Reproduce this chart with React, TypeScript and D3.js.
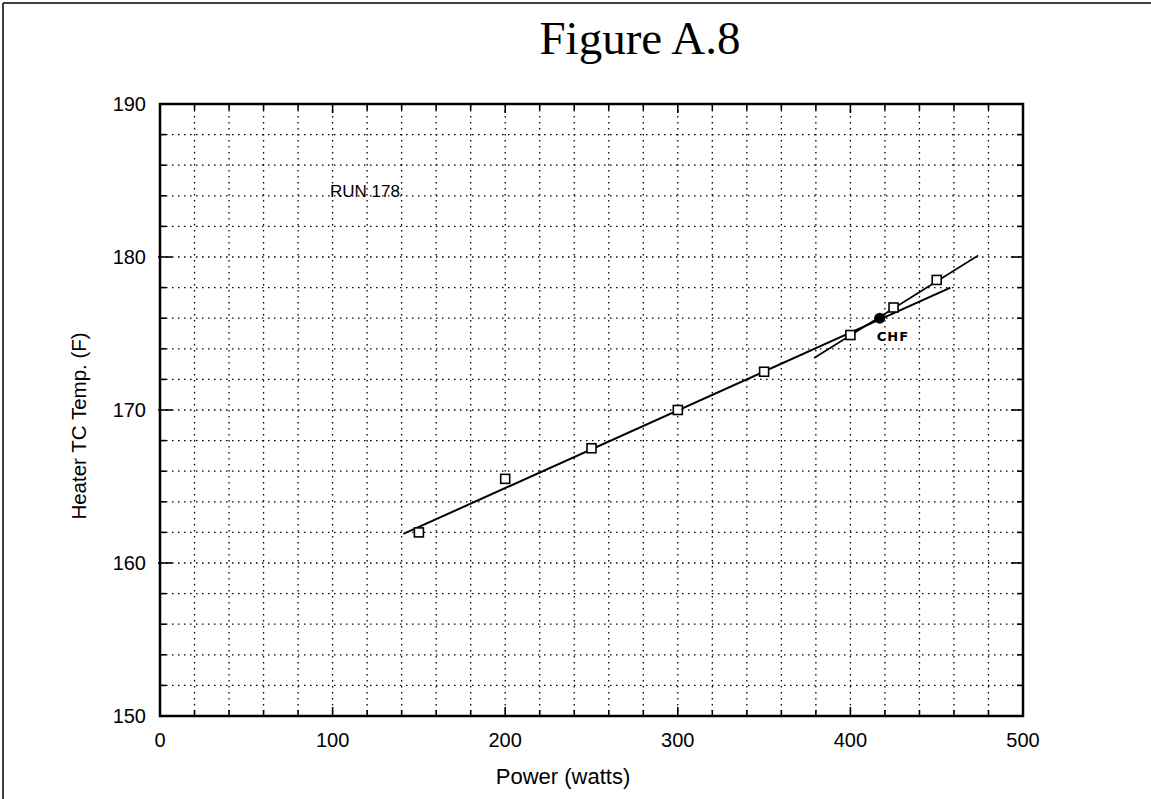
import React from "react";
import * as d3 from "d3";

const powerW = [150, 200, 250, 300, 350, 400, 425, 450];
const heaterTempF = [162.0, 165.5, 167.5, 170.0, 172.5, 174.9, 176.7, 178.5];
const chfPoint = [417, 176.0];
const lowFitPower = [141, 458];
const lowFitTemp = [161.9, 178.0];
const highFitPower = [379, 474];
const highFitTemp = [173.4, 180.1];
const xTicks = [0, 100, 200, 300, 400, 500];
const yTicks = [150, 160, 170, 180, 190];
const title = "Figure A.8";
const xLabel = "Power (watts)";
const yLabel = "Heater TC Temp. (F)";
const runLabel = "RUN 178";
const chfLabel = "CHF";

const W = 1151;
const H = 799;
const left = 160, right = 1023, top = 104, bottom = 716;

export default function App() {
  const x = d3.scaleLinear().domain([0, 500]).range([left, right]);
  const y = d3.scaleLinear().domain([150, 190]).range([bottom, top]);
  const xMinor = d3.range(20, 500, 20);
  const yMinor = d3.range(152, 190, 2);
  const line = d3.line<[number, number]>().x(d => x(d[0])).y(d => y(d[1]));
  const low: [number, number][] = lowFitPower.map((p, i) => [p, lowFitTemp[i]]);
  const high: [number, number][] = highFitPower.map((p, i) => [p, highFitTemp[i]]);
  const sans = "'Liberation Sans', Arial, Helvetica, sans-serif";
  const dots = "1.5,4.5";
  return (
    <svg width={W} height={H} style={{ position: "absolute", left: 0, top: 0, background: "#fff" }}>
      <rect x={0} y={0} width={W} height={H} fill="#fff" />
      {/* page frame */}
      <line x1={3} y1={3} x2={W} y2={3} stroke="#000" strokeWidth={1.5} />
      <line x1={3} y1={3} x2={3} y2={H} stroke="#000" strokeWidth={1.5} />
      <text x={640} y={54} textAnchor="middle" fontFamily="'Liberation Serif', 'Times New Roman', serif" fontSize={47} fill="#000">{title}</text>
      {/* grid */}
      {xMinor.map(v => (
        <line key={"gx" + v} x1={x(v)} x2={x(v)} y1={top} y2={bottom} stroke="#000" strokeWidth={1.3} strokeDasharray={dots} />
      ))}
      {yMinor.map(v => (
        <line key={"gy" + v} x1={left} x2={right} y1={y(v)} y2={y(v)} stroke="#000" strokeWidth={1.3} strokeDasharray={dots} />
      ))}
      {/* ticks */}
      {xMinor.map(v => {
        const len = v % 100 === 0 ? 9 : 6;
        return (
          <g key={"tx" + v}>
            <line x1={x(v)} x2={x(v)} y1={bottom} y2={bottom - len} stroke="#000" strokeWidth={1.6} />
            <line x1={x(v)} x2={x(v)} y1={top} y2={top + len} stroke="#000" strokeWidth={1.6} />
          </g>
        );
      })}
      {yMinor.map(v => {
        const len = v % 10 === 0 ? 12 : 6;
        return (
          <g key={"ty" + v}>
            <line x1={left - (v % 10 === 0 ? 2 : 0)} x2={left + len} y1={y(v)} y2={y(v)} stroke="#000" strokeWidth={1.6} />
            <line x1={right} x2={right - len} y1={y(v)} y2={y(v)} stroke="#000" strokeWidth={1.6} />
          </g>
        );
      })}
      {/* frame */}
      <rect x={left} y={top} width={right - left} height={bottom - top} fill="none" stroke="#000" strokeWidth={2.5} />
      {/* tick labels */}
      {xTicks.map(v => (
        <text key={"lx" + v} x={x(v)} y={747} textAnchor="middle" fontFamily={sans} fontSize={20} fill="#000">{v}</text>
      ))}
      {yTicks.map(v => (
        <text key={"ly" + v} x={146} y={y(v) + 7} textAnchor="end" fontFamily={sans} fontSize={20} fill="#000">{v}</text>
      ))}
      <text x={563} y={784} textAnchor="middle" fontFamily={sans} fontSize={22} fill="#000">{xLabel}</text>
      <text transform={`translate(86,${426}) rotate(-90)`} textAnchor="middle" fontFamily={sans} fontSize={20.5} fill="#000">{yLabel}</text>
      <text x={330} y={197} fontFamily={sans} fontSize={17} fill="#000">{runLabel}</text>
      {/* fit lines */}
      <path d={line(low) || ""} fill="none" stroke="#000" strokeWidth={2} />
      <path d={line(high) || ""} fill="none" stroke="#000" strokeWidth={1.6} />
      {/* data */}
      {powerW.map((p, i) => (
        <rect key={"p" + p} x={x(p) - 4.5} y={y(heaterTempF[i]) - 4.5} width={9} height={9} fill="#fff" stroke="#000" strokeWidth={1.6} />
      ))}
      <circle cx={x(chfPoint[0])} cy={y(chfPoint[1])} r={5.5} fill="#000" />
      <text x={x(chfPoint[0]) - 3} y={y(chfPoint[1]) + 23} fontFamily="'DejaVu Sans', sans-serif" fontWeight="bold" fontSize={13} letterSpacing={1} fill="#000">{chfLabel}</text>
    </svg>
  );
}
